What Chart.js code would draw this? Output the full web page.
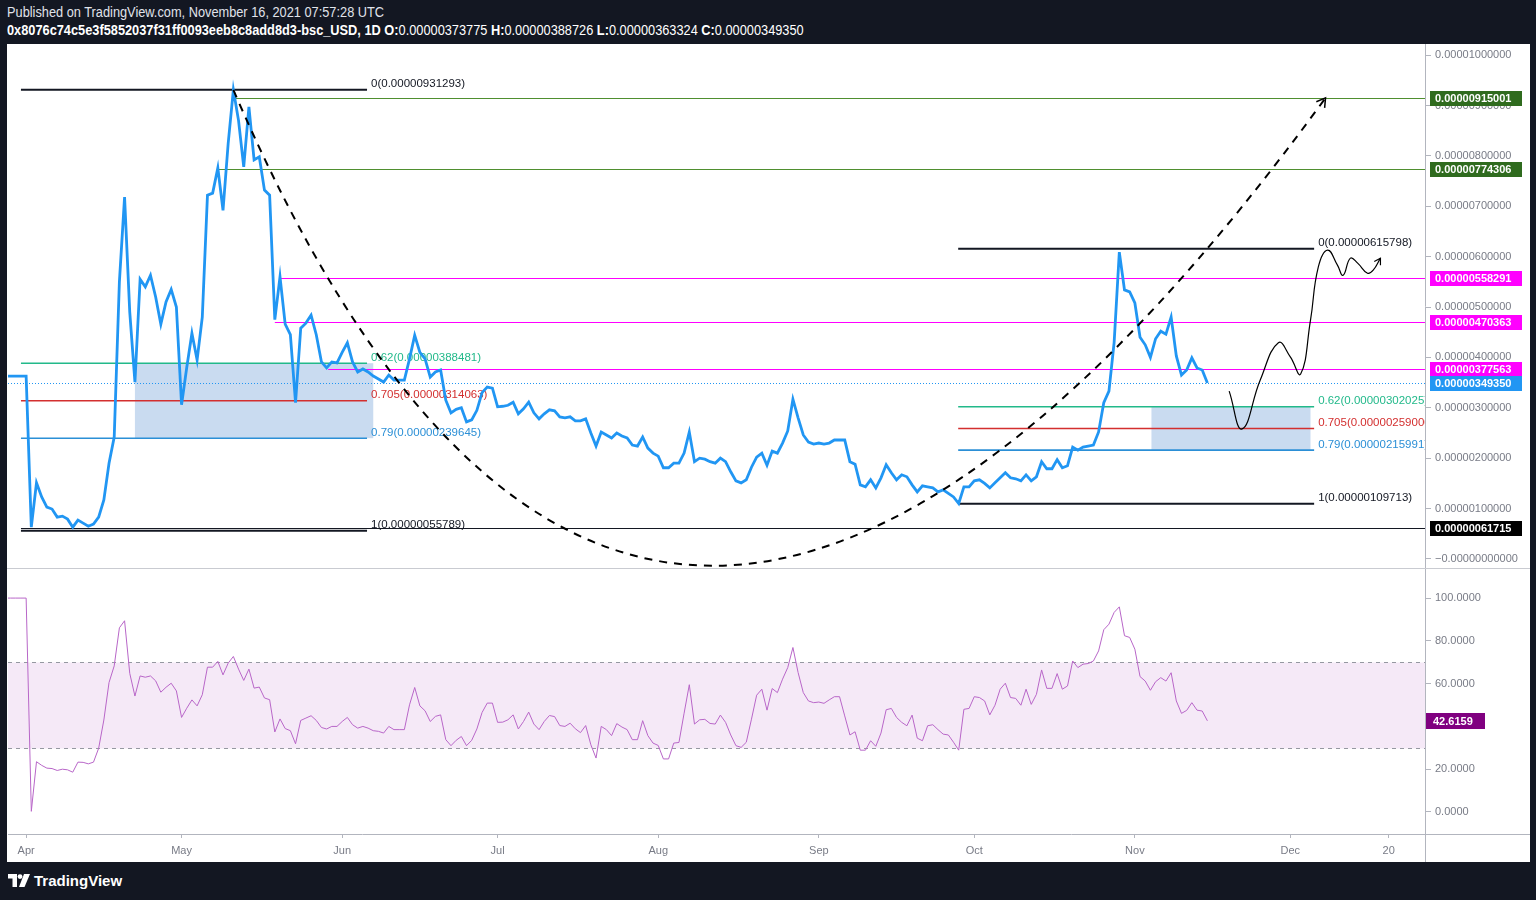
<!DOCTYPE html>
<html>
<head>
<meta charset="utf-8">
<title>0x8076...-bsc_USD 1D</title>
<script src="https://cdn.jsdelivr.net/npm/chart.js@4.4.0/dist/chart.umd.min.js"></script>
<style>
  body { margin: 0; width: 1536px; height: 900px; background: #131722; overflow: hidden; position: relative; font-family: 'Liberation Sans', Arial, sans-serif; }
  .hdr { position: absolute; left: 7px; color: #fff; font-family: 'Liberation Sans', Arial, sans-serif; font-size: 14px; white-space: nowrap; transform: scaleX(0.913); transform-origin: 0 0; }
  #paper { position: absolute; left: 7px; top: 44px; width: 1523px; height: 818px; background: #fff; }
  #sep { position: absolute; left: 7px; top: 568px; width: 1523px; height: 1px; background: #c9cbd1; }
  canvas { position: absolute; }
  #logo { position: absolute; left: 8px; top: 872px; display: flex; align-items: center; gap: 4px; color: #fff; font: bold 15px 'Liberation Sans', Arial, sans-serif; }
</style>
</head>
<body>
<div class="hdr" style="top:4px;color:#e0e3eb">Published on TradingView.com, November 16, 2021 07:57:28 UTC</div>
<div class="hdr" style="top:22px"><b>0x8076c74c5e3f5852037f31ff0093eeb8c8add8d3-bsc_USD, 1D</b> <b>O:</b>0.00000373775 <b>H:</b>0.00000388726 <b>L:</b>0.00000363324 <b>C:</b>0.00000349350</div>
<div id="paper"></div>
<canvas id="main" width="1522" height="524" style="left:8px;top:44px"></canvas>
<div id="sep"></div>
<canvas id="rsi" width="1522" height="293" style="left:8px;top:569px"></canvas>
<div id="logo">
  <svg width="22" height="13" viewBox="0 0 22 13"><path d="M0 0h9v13h-4.5v-8.5h-4.5z" fill="#fff"/><circle cx="12" cy="2.6" r="2.4" fill="#fff"/><path d="M16 0h6l-5.5 13h-5.5z" fill="#fff"/></svg>
  <span>TradingView</span>
</div>
<script>
// days counted from 1 Apr 2021; prices in units of 1e-6 USD
const firstDay = -4;
const price = [
  3.63, 3.63, 3.63, 3.63, 3.63,
  0.63, 1.51, 1.23, 1.03, 0.99, 0.83, 0.85, 0.79, 0.63, 0.77,
  0.71, 0.65, 0.69, 0.83, 1.17, 1.9, 2.42, 5.5, 7.18, 4.9,
  3.51, 5.55, 5.4, 5.63, 5.2, 4.66, 5.1, 5.35, 5.0, 3.06,
  3.8, 4.48, 3.95, 4.8, 7.22, 7.26, 7.76, 6.92, 8.25, 9.31,
  8.7, 7.78, 8.97, 7.92, 7.98, 7.32, 7.22, 4.75, 5.6, 4.66,
  4.45, 3.1, 4.58, 4.68, 4.84, 4.45, 3.91, 3.79, 3.91, 3.89,
  4.1, 4.29, 3.91, 3.71, 3.77, 3.71, 3.63, 3.57, 3.51, 3.65,
  3.55, 3.55, 3.55, 3.97, 4.44, 4.1, 3.97, 3.61, 3.71, 3.75,
  3.15, 2.9, 2.97, 3.0, 2.72, 2.76, 2.95, 3.3, 3.41, 3.39,
  3.02, 3.03, 3.05, 3.11, 2.88, 2.98, 3.11, 2.9, 2.78, 2.88,
  2.96, 2.94, 2.82, 2.8, 2.82, 2.74, 2.74, 2.78, 2.5, 2.24,
  2.52, 2.46, 2.4, 2.5, 2.44, 2.4, 2.26, 2.24, 2.42, 2.2,
  2.1, 2.04, 1.81, 1.81, 1.9, 1.9, 2.1, 2.52, 1.93, 2.0,
  1.98, 1.93, 1.9, 2.0, 1.93, 1.73, 1.55, 1.51, 1.57, 1.82,
  2.02, 2.1, 1.86, 2.14, 2.1, 2.3, 2.54, 3.17, 2.8, 2.46,
  2.32, 2.28, 2.3, 2.28, 2.3, 2.36, 2.36, 2.36, 1.93, 1.88,
  1.47, 1.43, 1.57, 1.41, 1.61, 1.87, 1.71, 1.57, 1.67, 1.63,
  1.47, 1.33, 1.45, 1.43, 1.41, 1.33, 1.37, 1.3, 1.23, 1.1,
  1.43, 1.43, 1.55, 1.57, 1.5, 1.41, 1.51, 1.61, 1.71, 1.61,
  1.59, 1.55, 1.67, 1.55, 1.63, 1.93, 1.79, 1.79, 1.97, 1.81,
  1.85, 2.22, 2.16, 2.22, 2.24, 2.26, 2.52, 3.1, 3.33, 4.3,
  6.09, 5.34, 5.3, 5.08, 4.4, 4.25, 4.0, 4.37, 4.52, 4.46,
  4.8, 4.03, 3.65, 3.75, 3.99, 3.79, 3.75, 3.49
];
const rsi = [
  100, 100, 100, 100, 100,
  0.3, 23.5, 21.8, 20.5, 20.3, 19.4, 20, 19.7, 18.6, 23.3,
  23.2, 22.5, 23.3, 29.8, 43, 60.5, 68.3, 86.1, 89.4, 64.8,
  54.2, 63.6, 63, 63.6, 61.3, 56, 58.3, 60.2, 56.6, 44.2,
  48.5, 52.4, 49.6, 54.8, 67.7, 67.7, 70.4, 64.1, 69.6, 72.7,
  66.8, 61.5, 66.8, 57.9, 58.4, 53.3, 52.5, 37.4, 43.5, 39,
  38, 31.9, 42.8, 43.9, 45, 42.8, 39.5, 38.8, 40, 40,
  42.3, 44.2, 40.8, 39.2, 40, 39.2, 38, 37.7, 36.9, 40,
  38.5, 38.5, 38.5, 50.1, 58.2, 49.6, 47.3, 42.3, 44.7, 45.4,
  33.8, 31, 33.5, 35.3, 31, 33.5, 38.8, 46.5, 50.9, 50.9,
  41.9, 42, 43.1, 45.4, 38.8, 42.3, 46.7, 41.1, 38.5, 42.3,
  45.1, 44.6, 40.4, 40, 41.5, 38.9, 37.1, 40.4, 31.4, 25.2,
  40, 38.5, 35.7, 41.3, 39.7, 38.5, 33.8, 33.8, 42.7, 35.7,
  32.2, 31.1, 24.8, 24.8, 32.2, 32.5, 46.2, 59.5, 41.1, 43.1,
  43.3, 41.4, 41.1, 45.3, 41.9, 36, 31, 30.2, 32.6, 43.4,
  54.6, 57.4, 47.6, 57.7, 55.8, 62.1, 67.5, 76.9, 65.2, 55.8,
  51.9, 51.1, 51.4, 50.8, 52.4, 53.9, 53.9, 44.9, 36, 37.5,
  28.9, 28.9, 33.3, 30.7, 36.9, 47.8, 48.4, 44.2, 41.9, 40.3,
  45.3, 34.5, 33.3, 40.3, 40.8, 38.5, 36.4, 36, 32.6, 28.9,
  48, 48.4, 53.9, 53.5, 51.9, 45.4, 49.9, 57.4, 60.2, 53.5,
  53.1, 49.9, 57.4, 50.3, 55, 66.4, 57.8, 57.8, 64.7, 57.4,
  58.9, 70.6, 67.5, 69.1, 69.4, 70.6, 75.3, 85.2, 87.8, 93.3,
  95.9, 82.4, 81.6, 76.1, 63.3, 61.2, 56.9, 60.9, 62.8, 61.2,
  65.1, 51.9, 46.1, 47.5, 51.1, 47.6, 47.2, 42.6159
];

const tickDays = [0, 30, 61, 91, 122, 153, 183, 214, 244, 263];
const tickNames = ['Apr', 'May', 'Jun', 'Jul', 'Aug', 'Sep', 'Oct', 'Nov', 'Dec', '20'];
const priceTicks = [0, 1, 2, 3, 4, 5, 6, 7, 8, 9, 10];
const rsiTicks = [0, 20, 40, 60, 80, 100];

// fib retracements
const fibRatios = ['0', '0.62', '0.705', '0.79', '1'];
const fibAPrices = [9.31293, 3.88481, 3.14063, 2.39645, 0.55789];
const fibADays = [-1, 65.8];
const fibABox = [21, 67];
const fibBPrices = [6.15798, 3.02025, 2.59, 2.15991, 1.09713];
const fibBDays = [179.9, 248.6];
const fibBBox = [217.2, 247.9];

// horizontal levels
const levelPrices = [9.15001, 7.74306, 5.58291, 4.70363, 3.77563, 0.61715];
const levelStart = [40, 37, 49, 48, 58.3, -1];
const lastPrice = 3.4935;
const lastRsi = 42.6159;

// cup drawing (start, control, end) and the projected path
const cupDays = [40, 118.7, 250.8];
const cupPrices = [9.31, -9.5, 9.15];
const projDays = [232.2, 234.7, 238.2, 241.7, 244.0, 246.0, 247.9, 249.4, 251.2, 253.1, 254.2, 255.6, 257, 258.9, 260, 261.4];
const projPrices = [3.33, 2.58, 3.55, 4.29, 4.01, 3.67, 4.74, 5.79, 6.13, 5.83, 5.63, 5.97, 5.87, 5.67, 5.73, 5.97];

const fibColors = ['#131722', '#22b98a', '#d32f2f', '#2b8fd6', '#131722'];
const levelColors = ['#4f8f2f', '#4f8f2f', '#ff00ff', '#ff00ff', '#ff00ff', '#131722'];
const levelBoxColors = ['#2f6b1e', '#2f6b1e', '#ff00ff', '#ff00ff', '#ff00ff', '#000000'];
const axisGrey = '#787b86';

Chart.defaults.font.family = "'Liberation Sans', Arial, sans-serif";
Chart.defaults.font.size = 11;
Chart.defaults.color = axisGrey;

const xRange = { min: -3.5, max: 270 };
const fmt = v => (v * 1e-6).toFixed(11);

function arrowHead(ctx, tipX, tipY, fromX, fromY, len) {
  const ang = Math.atan2(tipY - fromY, tipX - fromX);
  ctx.beginPath();
  ctx.moveTo(tipX + len * Math.cos(ang + 2.6), tipY + len * Math.sin(ang + 2.6));
  ctx.lineTo(tipX, tipY);
  ctx.lineTo(tipX + len * Math.cos(ang - 2.6), tipY + len * Math.sin(ang - 2.6));
  ctx.stroke();
}

const mainDecor = {
  id: 'mainDecor',
  beforeDatasetsDraw(chart) {
    const { ctx, chartArea: a, scales: { x, y } } = chart;
    ctx.save();
    ctx.beginPath(); ctx.rect(a.left, a.top, a.width, a.height); ctx.clip();
    [[fibAPrices, fibABox], [fibBPrices, fibBBox]].forEach(([p, box]) => {
      const x0 = x.getPixelForValue(box[0]), x1 = x.getPixelForValue(box[1]);
      const y0 = y.getPixelForValue(p[1]), y1 = y.getPixelForValue(p[3]);
      ctx.fillStyle = 'rgba(21,101,192,0.23)';
      ctx.fillRect(x0, y0, x1 - x0, y1 - y0);
    });
    levelPrices.forEach((p, i) => {
      const yy = Math.round(y.getPixelForValue(p)) + 0.5;
      ctx.strokeStyle = levelColors[i];
      ctx.lineWidth = 1.2;
      ctx.beginPath(); ctx.moveTo(x.getPixelForValue(levelStart[i]), yy); ctx.lineTo(a.right, yy); ctx.stroke();
    });
    const yl = Math.round(y.getPixelForValue(lastPrice)) + 0.5;
    ctx.strokeStyle = '#2196f3'; ctx.lineWidth = 1; ctx.setLineDash([1, 2]);
    ctx.beginPath(); ctx.moveTo(a.left, yl); ctx.lineTo(a.right, yl); ctx.stroke();
    ctx.setLineDash([]);
    [[fibAPrices, fibADays], [fibBPrices, fibBDays]].forEach(([p, d]) => {
      const x0 = x.getPixelForValue(d[0]), x1 = x.getPixelForValue(d[1]);
      p.forEach((v, i) => {
        const yy = y.getPixelForValue(v);
        ctx.strokeStyle = fibColors[i];
        ctx.lineWidth = (i === 0 || i === 4) ? 2 : 1.6;
        ctx.beginPath(); ctx.moveTo(x0, yy); ctx.lineTo(x1, yy); ctx.stroke();
        ctx.fillStyle = fibColors[i];
        ctx.font = "11.5px 'Liberation Sans', Arial, sans-serif";
        ctx.textAlign = 'left'; ctx.textBaseline = 'bottom';
        ctx.fillText(fibRatios[i] + '(' + fmt(v) + ')', x1 + 4, yy);
      });
    });
    ctx.restore();
  },
  afterDatasetsDraw(chart) {
    const { ctx, chartArea: a, scales: { x, y } } = chart;
    ctx.save();
    ctx.beginPath(); ctx.rect(a.left, a.top, a.width, a.height); ctx.clip();
    const px = cupDays.map(d => x.getPixelForValue(d));
    const py = cupPrices.map(v => y.getPixelForValue(v));
    ctx.strokeStyle = '#000'; ctx.lineWidth = 2; ctx.setLineDash([8, 7]);
    ctx.beginPath(); ctx.moveTo(px[0], py[0]); ctx.quadraticCurveTo(px[1], py[1], px[2], py[2]); ctx.stroke();
    ctx.setLineDash([]); ctx.lineWidth = 1.5;
    arrowHead(ctx, px[2], py[2], px[1], py[1], 10);
    const n = projDays.length;
    ctx.lineWidth = 1.2;
    arrowHead(ctx, x.getPixelForValue(projDays[n - 1]), y.getPixelForValue(projPrices[n - 1]),
      x.getPixelForValue(projDays[n - 2]), y.getPixelForValue(projPrices[n - 2]), 7);
    ctx.restore();
  },
  afterDraw(chart) {
    const { ctx, chartArea: a, scales: { y } } = chart;
    ctx.save();
    ctx.font = "bold 11px 'Liberation Sans', Arial, sans-serif";
    ctx.textAlign = 'left'; ctx.textBaseline = 'middle';
    const boxes = levelPrices.map((p, i) => [p, levelBoxColors[i]]).concat([[lastPrice, '#2196f3']]);
    boxes.forEach(([p, c]) => {
      const yy = y.getPixelForValue(p);
      ctx.fillStyle = c;
      ctx.fillRect(a.right + 5, Math.round(yy) - 7, 92, 15);
      ctx.fillStyle = '#fff';
      ctx.fillText(fmt(p), a.right + 10, Math.round(yy) + 1);
    });
    ctx.restore();
  }
};

const rsiDecor = {
  id: 'rsiDecor',
  beforeDatasetsDraw(chart) {
    const { ctx, chartArea: a, scales: { y } } = chart;
    const y70 = Math.round(y.getPixelForValue(70)) + 0.5, y30 = Math.round(y.getPixelForValue(30)) + 0.5;
    ctx.save();
    ctx.fillStyle = 'rgba(156,39,176,0.1)';
    ctx.fillRect(a.left, y70, a.width, y30 - y70);
    ctx.strokeStyle = '#9598a1'; ctx.lineWidth = 1; ctx.setLineDash([4, 4]);
    [y70, y30].forEach(yy => { ctx.beginPath(); ctx.moveTo(a.left, yy); ctx.lineTo(a.right, yy); ctx.stroke(); });
    ctx.restore();
  },
  afterDraw(chart) {
    const { ctx, chartArea: a, scales: { y } } = chart;
    ctx.save();
    ctx.strokeStyle = '#b2b5be'; ctx.lineWidth = 1;
    ctx.beginPath();
    ctx.moveTo(a.right, a.bottom + 0.5); ctx.lineTo(chart.width, a.bottom + 0.5);
    ctx.moveTo(a.right + 0.5, a.bottom); ctx.lineTo(a.right + 0.5, chart.height);
    ctx.stroke();
    const yy = Math.round(y.getPixelForValue(lastRsi));
    ctx.fillStyle = '#800080';
    ctx.fillRect(a.right + 1, yy - 8, 59, 16);
    ctx.fillStyle = '#fff';
    ctx.font = "bold 11px 'Liberation Sans', Arial, sans-serif";
    ctx.textBaseline = 'middle';
    ctx.fillText(lastRsi.toFixed(4), a.right + 8, yy + 1);
    ctx.restore();
  }
};

const priceData = price.map((v, i) => ({ x: firstDay + i, y: v }));
const rsiData = rsi.map((v, i) => ({ x: firstDay + i, y: v }));
const projData = projDays.map((d, i) => ({ x: d, y: projPrices[i] }));

const rightAxis = (min, max, ticks, label) => ({
  position: 'right', min, max,
  afterFit: s => { s.width = 105; s.paddingTop = 0; s.paddingBottom = 0; },
  afterBuildTicks: s => { s.ticks = ticks.map(v => ({ value: v })); },
  grid: { drawOnChartArea: false, tickLength: 6, tickColor: '#b2b5be' },
  border: { display: true, color: '#b2b5be' },
  ticks: { padding: 4, color: axisGrey, callback: label }
});

new Chart(document.getElementById('main'), {
  type: 'line',
  data: {
    datasets: [
      { data: priceData, borderColor: '#2196f3', borderWidth: 2.8, pointRadius: 0, tension: 0 },
      { data: projData, borderColor: '#000', borderWidth: 1.2, pointRadius: 0, tension: 0.45 }
    ]
  },
  options: {
    responsive: false, devicePixelRatio: 1, animation: false,
    layout: { padding: 0 },
    plugins: { legend: { display: false }, tooltip: { enabled: false } },
    scales: {
      x: { type: 'linear', display: false, min: xRange.min, max: xRange.max },
      y: rightAxis(-0.18, 10.22, priceTicks, v => v === 0 ? '\u22120.00000000000' : fmt(v))
    }
  },
  plugins: [mainDecor]
});

new Chart(document.getElementById('rsi'), {
  type: 'line',
  data: {
    datasets: [
      { data: rsiData, borderColor: '#b866c8', borderWidth: 1, pointRadius: 0, tension: 0 }
    ]
  },
  options: {
    responsive: false, devicePixelRatio: 1, animation: false,
    layout: { padding: 0 },
    plugins: { legend: { display: false }, tooltip: { enabled: false } },
    scales: {
      x: {
        type: 'linear', min: xRange.min, max: xRange.max,
        afterFit: s => { s.height = 28; s.paddingLeft = 0; s.paddingRight = 0; },
        afterBuildTicks: s => { s.ticks = tickDays.map(v => ({ value: v })); },
        grid: { drawOnChartArea: false, tickLength: 4, tickColor: '#b2b5be' },
        border: { display: true, color: '#b2b5be' },
        ticks: {
          padding: 6, autoSkip: false, maxRotation: 0, color: axisGrey,
          callback: v => { const i = tickDays.indexOf(v); return i >= 0 ? tickNames[i] : ''; }
        }
      },
      y: rightAxis(-10.3, 113.6, rsiTicks, v => v.toFixed(4))
    }
  },
  plugins: [rsiDecor]
});
</script>
</body>
</html>
